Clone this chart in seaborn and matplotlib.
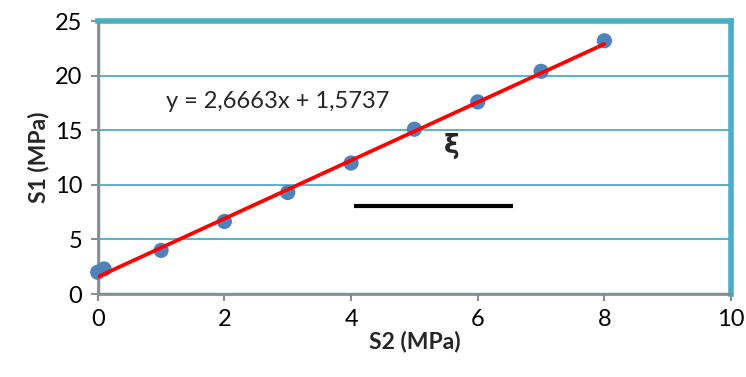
import numpy as np
import pandas as pd
import matplotlib
matplotlib.use("Agg")
import matplotlib.pyplot as plt
import seaborn as sns

# Measured stress pairs
s2 = [0.0, 0.1, 1, 2, 3, 4, 5, 6, 7, 8]
s1 = [2.0, 2.3, 4.0, 6.65, 9.3, 12.0, 15.1, 17.6, 20.4, 23.2]

# Linear trend line coefficients
slope = 2.6663
intercept = 1.5737
x_ticks = [0, 2, 4, 6, 8, 10]
y_ticks = [0, 5, 10, 15, 20, 25]

sns.set_theme(style="white")
plt.rcParams["font.family"] = ["Lato", "DejaVu Sans"]

teal = "#4BACC6"
gray = "#8C8C8C"

fig = plt.figure(figsize=(7.46, 3.77), dpi=100)
ax = fig.add_axes([0.131, 0.220, 0.849, 0.724])

df = pd.DataFrame({"S2": s2, "S1": s1})
sns.scatterplot(data=df, x="S2", y="S1", ax=ax, s=120, color="#4F81BD",
                edgecolor="none", zorder=3, clip_on=False)

fit_x = np.array([0.0, 8.0])
fit = pd.DataFrame({"x": fit_x, "y": slope * fit_x + intercept})
sns.lineplot(data=fit, x="x", y="y", ax=ax, color="red", linewidth=2.7, zorder=4)

ax.set_xlim(0, 10)
ax.set_ylim(0, 25)
ax.set_xticks(x_ticks)
ax.set_yticks(y_ticks)
ax.tick_params(axis="both", labelsize=17, colors="black", length=5, width=1.5,
               direction="out", pad=6)
ax.tick_params(axis="both", color=gray)
ax.xaxis.set_ticks_position("bottom")
ax.yaxis.set_ticks_position("left")

for y in y_ticks[1:-1]:
    ax.axhline(y, color=teal, linewidth=1.3, zorder=1)

for side in ["top", "right"]:
    ax.spines[side].set_color(teal)
    ax.spines[side].set_linewidth(4)
for side in ["left", "bottom"]:
    ax.spines[side].set_color(gray)
    ax.spines[side].set_linewidth(2)
ax.axhline(0, color=teal, linewidth=2.5, zorder=2)
ax.axvline(0, color=teal, linewidth=2.5, zorder=2)

ax.set_xlabel("S2 (MPa)", fontsize=16.5, fontweight="bold", labelpad=0)
ax.set_ylabel("S1 (MPa)", fontsize=16.5, fontweight="bold", labelpad=4)

ax.text(2.84, 17.6, f"y = {slope:.4f}x + {intercept:.4f}".replace(".", ","),
        fontsize=17, ha="center", va="center")
ax.text(5.58, 13.6, "ξ", fontsize=19, fontweight="bold", ha="center", va="center",
        family=["DejaVu Sans"])
ax.plot([4.04, 6.55], [8.1, 8.1], color="black", linewidth=3, solid_capstyle="butt",
        zorder=3)

fig.savefig("out.png", dpi=100)
